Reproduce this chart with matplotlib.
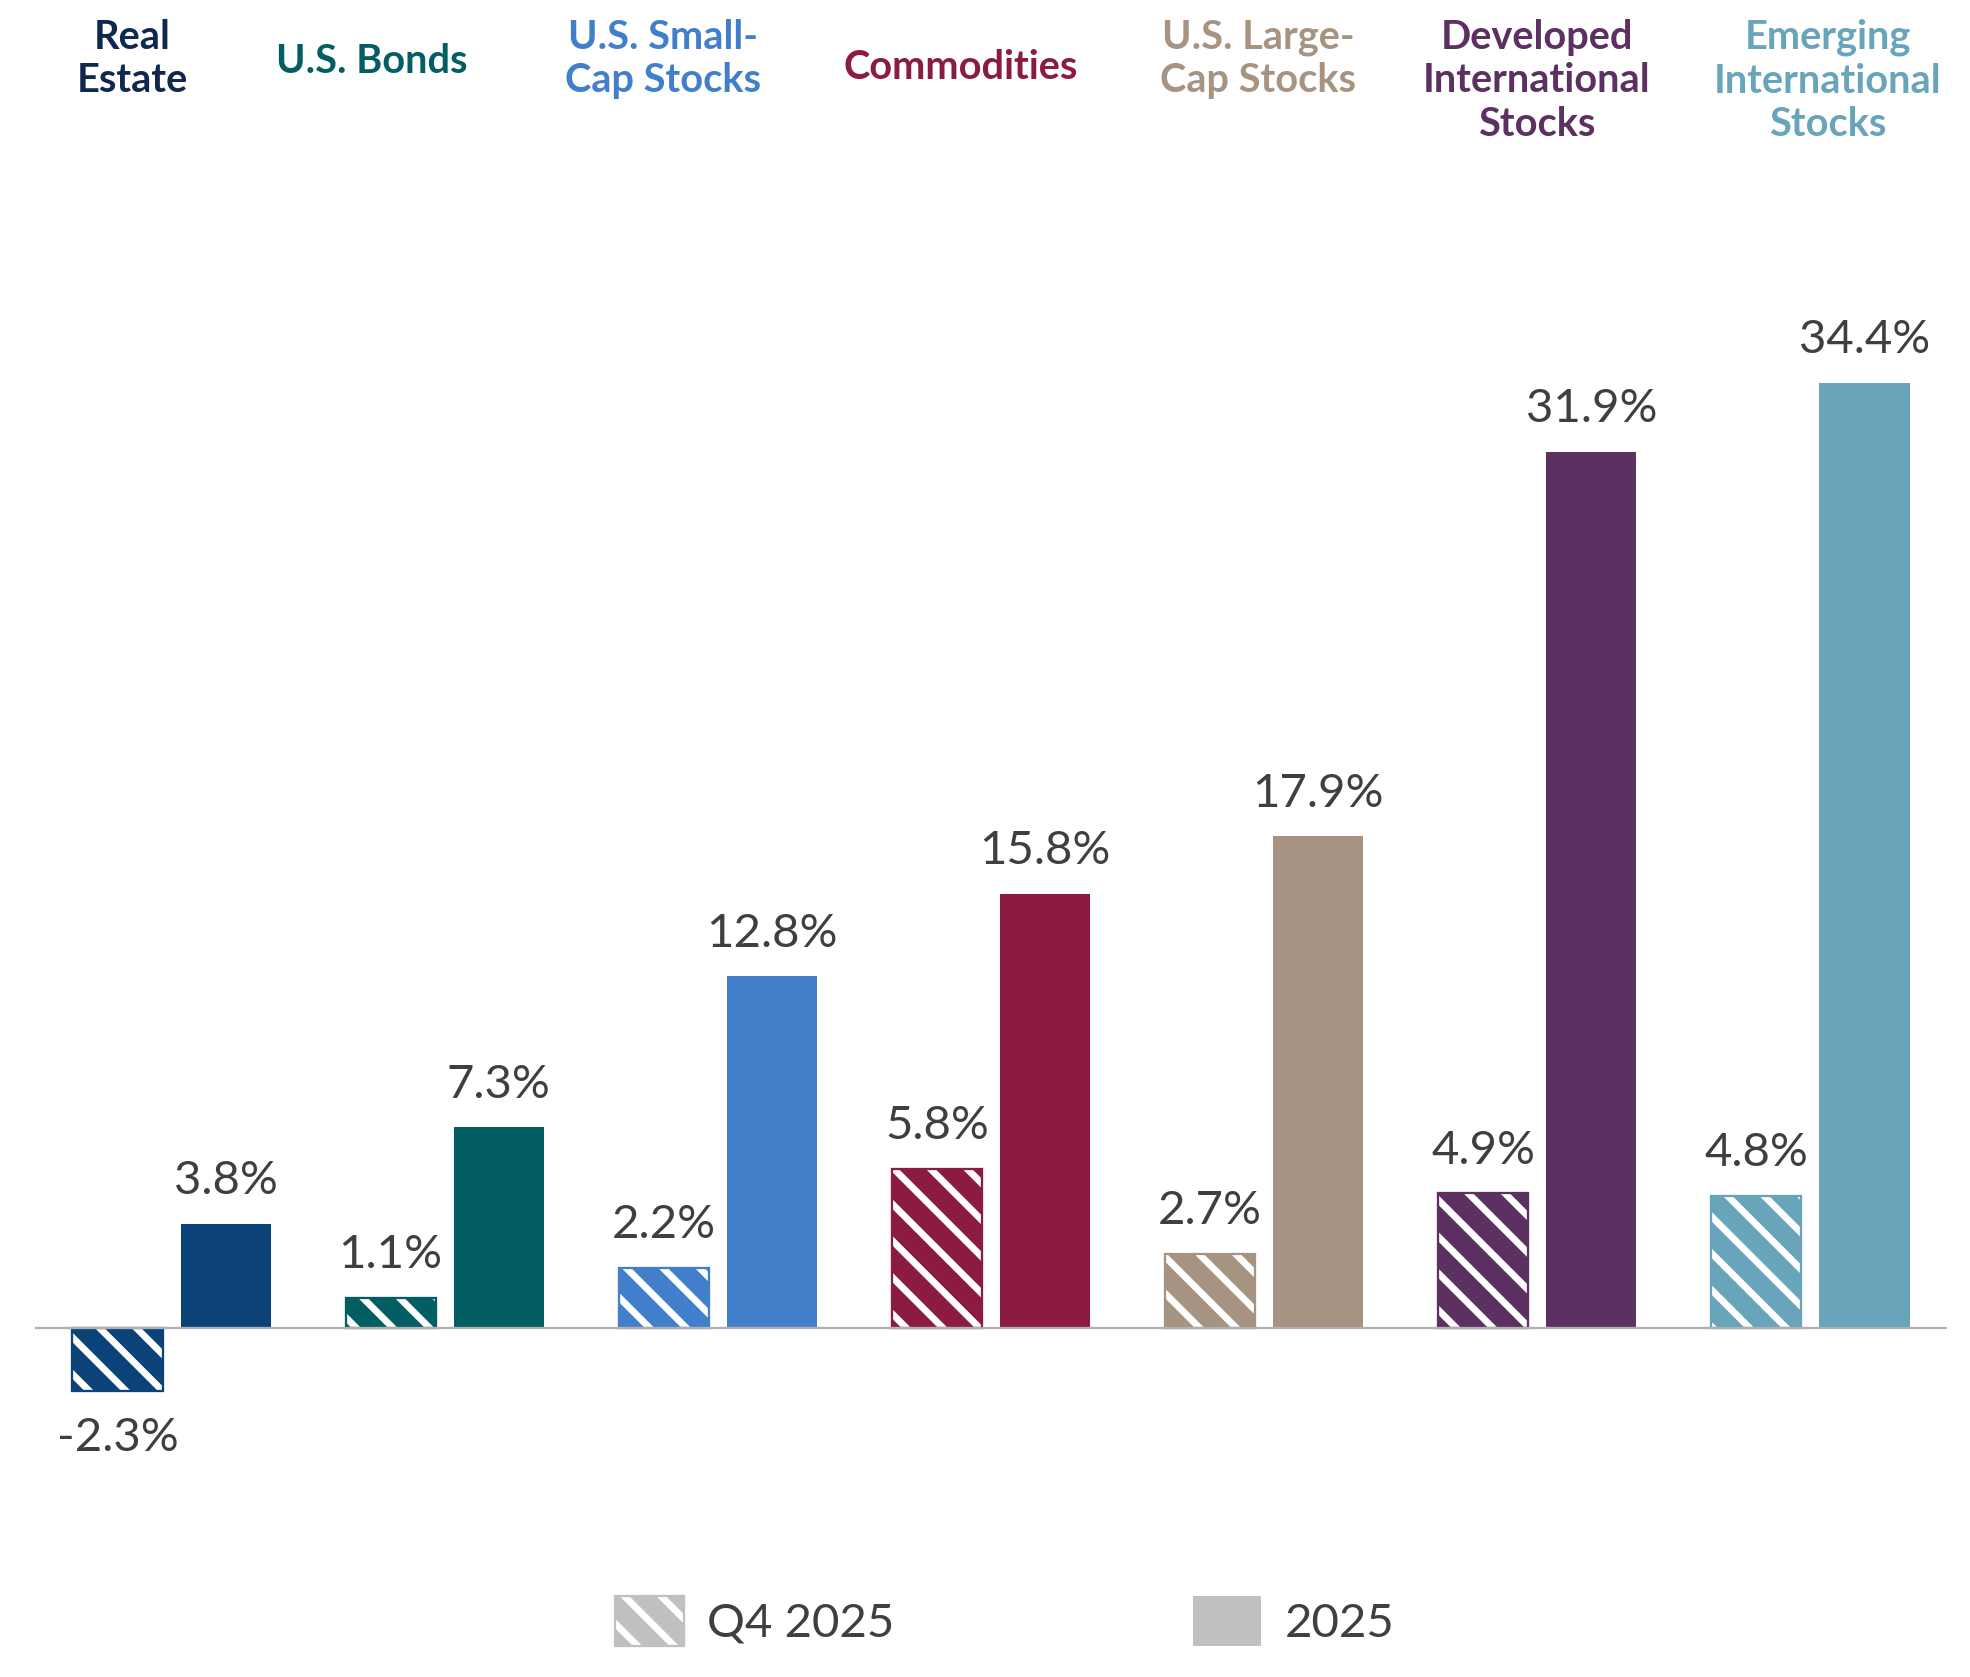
import matplotlib
matplotlib.use("Agg")
import matplotlib.pyplot as plt
from matplotlib.patches import Patch
import numpy as np

# ---- data ----
categories = ["Real\nEstate", "U.S. Bonds", "U.S. Small-\nCap Stocks", "Commodities",
              "U.S. Large-\nCap Stocks", "Developed\nInternational\nStocks",
              "Emerging\nInternational\nStocks"]
q4_2025 = [-2.3, 1.1, 2.2, 5.8, 2.7, 4.9, 4.8]
yr_2025 = [3.8, 7.3, 12.8, 15.8, 17.9, 31.9, 34.4]
bar_colors = ["#0b4379", "#035e64", "#417fcb", "#8b1c40", "#a69382", "#5c3060", "#68a4ba"]
label_colors = ["#11284e", "#035e64", "#417fcb", "#8b1c40", "#a69382", "#5c3060", "#68a4ba"]
series_names = ["Q4 2025", "2025"]

# ---- layout ----
W, H = 1970, 1677
DPI = 110
plt.rcParams['font.family'] = ['Lato', 'DejaVu Sans']
plt.rcParams['hatch.linewidth'] = 12.5

fig = plt.figure(figsize=(W / DPI, H / DPI), dpi=DPI)
ax = fig.add_axes([35 / W, 0.10984, 1912 / W, 0.68795])
ax.set_xlim(-0.5, 6.5)
ax.set_ylim(-6, 36)
ax.axis('off')

x = np.arange(len(categories))
off = 0.198
bw = 0.33
val_color = "#3f3f3f"
val_size = 31

ax.bar(x - off, q4_2025, width=bw, facecolor="white", edgecolor=bar_colors,
       hatch="\\", linewidth=1.5, zorder=2)
ax.bar(x + off, yr_2025, width=bw, color=bar_colors, linewidth=0, zorder=2)
ax.axhline(0, color="#b0b0b0", lw=1.5, zorder=3)

for xi, v in zip(x - off, q4_2025):
    if v >= 0:
        ax.annotate(f"{v:.1f}%", (xi, v), xytext=(0, 19.5), textcoords="offset points",
                    ha="center", va="baseline", fontsize=val_size, color=val_color)
    else:
        ax.annotate(f"{v:.1f}%", (xi, v), xytext=(0, -17), textcoords="offset points",
                    ha="center", va="top", fontsize=val_size, color=val_color)
for xi, v in zip(x + off, yr_2025):
    ax.annotate(f"{v:.1f}%", (xi, v), xytext=(0, 19.5), textcoords="offset points",
                ha="center", va="baseline", fontsize=val_size, color=val_color)

# category headers
label_px = [132, 372, 663, 961, 1258, 1537, 1828]
for lbl, px, c in zip(categories, label_px, label_colors):
    nlines = lbl.count("\n") + 1
    top_y = 19 if nlines > 1 else 43
    if lbl == "Commodities":
        top_y = 49
    fig.text(px / W, 1 - top_y / H, lbl, ha="center", va="top",
             fontsize=26, fontweight="bold", color=c, linespacing=1.21,
             multialignment="center")

# legend
handles = [Patch(facecolor="white", edgecolor="#c0c0c0", hatch="\\", linewidth=1.5),
           Patch(facecolor="#c0c0c0", edgecolor="none")]
fig.legend(handles, series_names, loc="center", bbox_to_anchor=(1005 / W, 1 - 1621 / H),
           ncol=2, frameon=False, fontsize=val_size, labelcolor=val_color,
           handlelength=1.44, handleheight=1.24, handletextpad=0.5, columnspacing=6.3)

fig.savefig("out.png", dpi=DPI, facecolor="white")
